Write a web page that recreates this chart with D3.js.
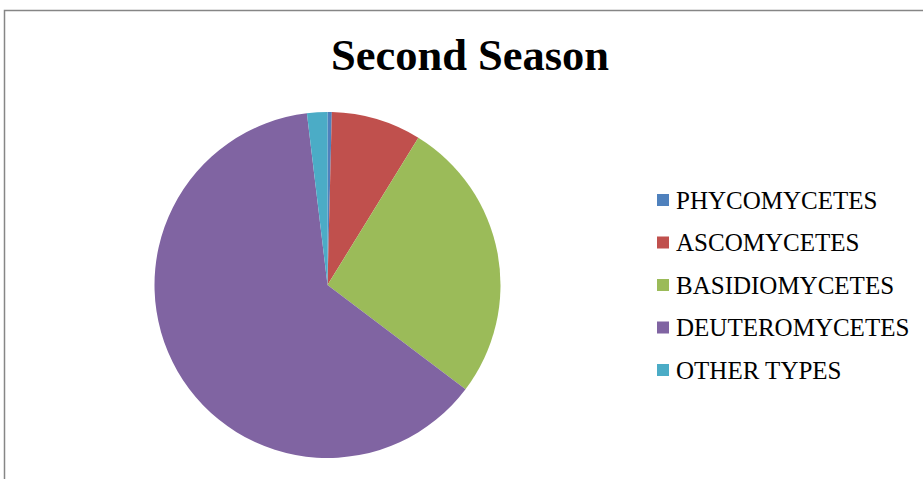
<!DOCTYPE html>
<html>
<head>
<meta charset="utf-8">
<script src="https://cdn.jsdelivr.net/npm/d3@7"></script>
<style>
  body { margin: 0; background: #fff; }
  svg { display: block; }
</style>
</head>
<body>
<svg width="923" height="479"></svg>
<script>
// slice data (percent)
let categories = ['PHYCOMYCETES', 'ASCOMYCETES', 'BASIDIOMYCETES', 'DEUTEROMYCETES', 'OTHER TYPES'];
let values = [0.4, 8.4, 26.5, 62.8, 1.9];
let colors = ['#4F81BD', '#C0504D', '#9BBB59', '#8064A2', '#4BACC6'];

let svg = d3.select('svg');

// chart frame (only top and left edges show in the crop)
svg.append('rect')
   .attr('x', 4.5).attr('y', 10.5)
   .attr('width', 940).attr('height', 500)
   .attr('fill', '#fff')
   .attr('stroke', '#868686')
   .attr('stroke-width', 1.5);

svg.append('text')
   .attr('x', 470).attr('y', 70)
   .attr('text-anchor', 'middle')
   .style('font-family', '"Liberation Serif", "Times New Roman", serif')
   .style('font-weight', 'bold')
   .style('font-size', '44.5px')
   .text('Second Season');

let cx = 327.5, cy = 285, radius = 173;

let pie = d3.pie().sort(null).value(d => d);
let arc = d3.arc().innerRadius(0).outerRadius(radius);

svg.append('g')
   .attr('transform', `translate(${cx},${cy})`)
   .selectAll('path')
   .data(pie(values))
   .enter()
   .append('path')
   .attr('d', arc)
   .attr('fill', (d, i) => colors[i]);

// legend
let legendY = d3.scalePoint()
                .domain(categories)
                .range([200, 370]);

let legend = svg.append('g')
                .selectAll('g')
                .data(categories)
                .enter()
                .append('g')
                .attr('transform', d => `translate(657,${legendY(d)})`);

legend.append('rect')
      .attr('x', 0).attr('y', -6)
      .attr('width', 12).attr('height', 12)
      .attr('fill', (d, i) => colors[i]);

legend.append('text')
      .attr('x', 19).attr('y', 8.5)
      .style('font-family', '"Liberation Serif", "Times New Roman", serif')
      .style('font-size', '25px')
      .text(d => d);
</script>
</body>
</html>
